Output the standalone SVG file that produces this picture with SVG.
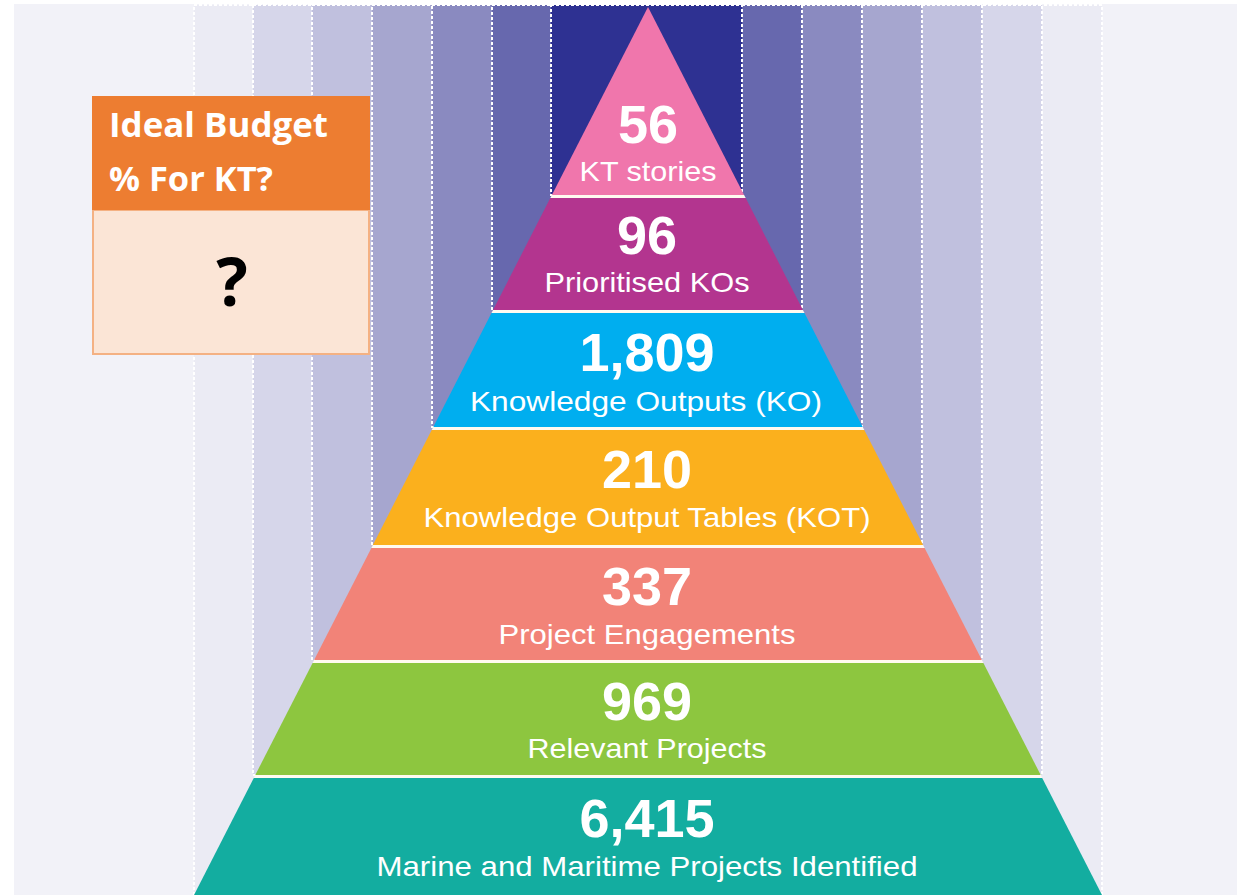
<svg xmlns="http://www.w3.org/2000/svg" width="1237" height="895" viewBox="0 0 1237 895">
<style>
.col{stroke:#ffffff;stroke-width:2;stroke-dasharray:3 2}
.num{font-family:"Liberation Sans",Arial,sans-serif;font-weight:700;font-size:54px;fill:#ffffff;text-anchor:middle}
.lbl{font-family:"Liberation Sans",Arial,sans-serif;font-weight:400;font-size:28px;fill:#ffffff;text-anchor:middle}
.gap{fill:#fffaf0}
.hdr{font-family:"Open Sans","Liberation Sans",sans-serif;font-weight:700;font-size:34px;fill:#ffffff}
</style>
<rect x="0" y="0" width="1237" height="895" fill="#ffffff"/>
<rect x="14" y="4" width="1223" height="891" fill="#f2f2f8"/>
<g id="columns">
<rect class="col" x="194" y="5" width="908" height="892" fill="#ebebf4"/>
<rect class="col" x="253" y="5" width="789" height="770" fill="#d6d6ea"/>
<rect class="col" x="312" y="5" width="670" height="655" fill="#c0c0de"/>
<rect class="col" x="372" y="5" width="550" height="540" fill="#a6a6cf"/>
<rect class="col" x="432" y="5" width="430" height="422" fill="#8a8ac0"/>
<rect class="col" x="492" y="5" width="310" height="305" fill="#6768ae"/>
<rect class="col" x="551" y="5" width="191" height="190" fill="#2e3192"/>
</g>
<g id="connectors"></g>
<g id="separators">
<polygon class="gap" points="551.9,195 744.1,195 745.7,198 550.3,198"/>
<polygon class="gap" points="493.1,310 802.9,310 804.5,313 491.5,313"/>
<polygon class="gap" points="433.3,427 862.7,427 864.3,430 431.7,430"/>
<polygon class="gap" points="372.9,545 923.1,545 924.6,548 371.4,548"/>
<polygon class="gap" points="314.1,660 981.9,660 983.4,663 312.6,663"/>
<polygon class="gap" points="255.3,775 1040.7,775 1042.2,778 253.8,778"/>
</g>
<g id="level-kt-stories">
<polygon points="648,7 744.1,195 551.9,195" fill="#f076ac"/>
<text class="num" x="648" y="143">56</text>
<text class="lbl" x="648" y="181" textLength="137" lengthAdjust="spacingAndGlyphs">KT stories</text>
</g>
<g id="level-prioritised-kos">
<polygon points="550.3,198 745.7,198 802.9,310 493.1,310" fill="#b3358f"/>
<text class="num" x="647" y="254">96</text>
<text class="lbl" x="647" y="292" textLength="205" lengthAdjust="spacingAndGlyphs">Prioritised KOs</text>
</g>
<g id="level-knowledge-outputs">
<polygon points="491.5,313 804.5,313 862.7,427 433.3,427" fill="#00aeef"/>
<text class="num" x="647" y="371">1,809</text>
<text class="lbl" x="646" y="411" textLength="352" lengthAdjust="spacingAndGlyphs">Knowledge Outputs (KO)</text>
</g>
<g id="level-knowledge-output-tables">
<polygon points="431.7,430 864.3,430 923.1,545 372.9,545" fill="#fbb01d"/>
<text class="num" x="647" y="488">210</text>
<text class="lbl" x="647" y="527" textLength="447" lengthAdjust="spacingAndGlyphs">Knowledge Output Tables (KOT)</text>
</g>
<g id="level-project-engagements">
<polygon points="371.4,548 924.6,548 981.9,660 314.1,660" fill="#f28378"/>
<text class="num" x="647" y="605">337</text>
<text class="lbl" x="647" y="644" textLength="297" lengthAdjust="spacingAndGlyphs">Project Engagements</text>
</g>
<g id="level-relevant-projects">
<polygon points="312.6,663 983.4,663 1040.7,775 255.3,775" fill="#8dc63f"/>
<text class="num" x="647" y="720">969</text>
<text class="lbl" x="647" y="758" textLength="239" lengthAdjust="spacingAndGlyphs">Relevant Projects</text>
</g>
<g id="level-marine-maritime">
<polygon points="253.8,778 1042.2,778 1102,895 194,895" fill="#13ada0"/>
<text class="num" x="647" y="837">6,415</text>
<text class="lbl" x="647" y="876" textLength="541" lengthAdjust="spacingAndGlyphs">Marine and Maritime Projects Identified</text>
</g>
<g id="budget-box">
<rect x="93" y="210" width="276" height="144" fill="#fbe5d6" stroke="#f4b183" stroke-width="2"/>
<rect x="92" y="96" width="278" height="114" fill="#ed7d31"/>
<text class="hdr" x="109" y="137" textLength="219" lengthAdjust="spacingAndGlyphs">Ideal Budget</text>
<text class="hdr" x="109" y="191" textLength="164" lengthAdjust="spacingAndGlyphs">% For KT?</text>
<text x="232" y="306" font-family="Open Sans, Liberation Sans, sans-serif" font-weight="700" font-size="66" fill="#000000" text-anchor="middle">?</text>
</g>
</svg>
